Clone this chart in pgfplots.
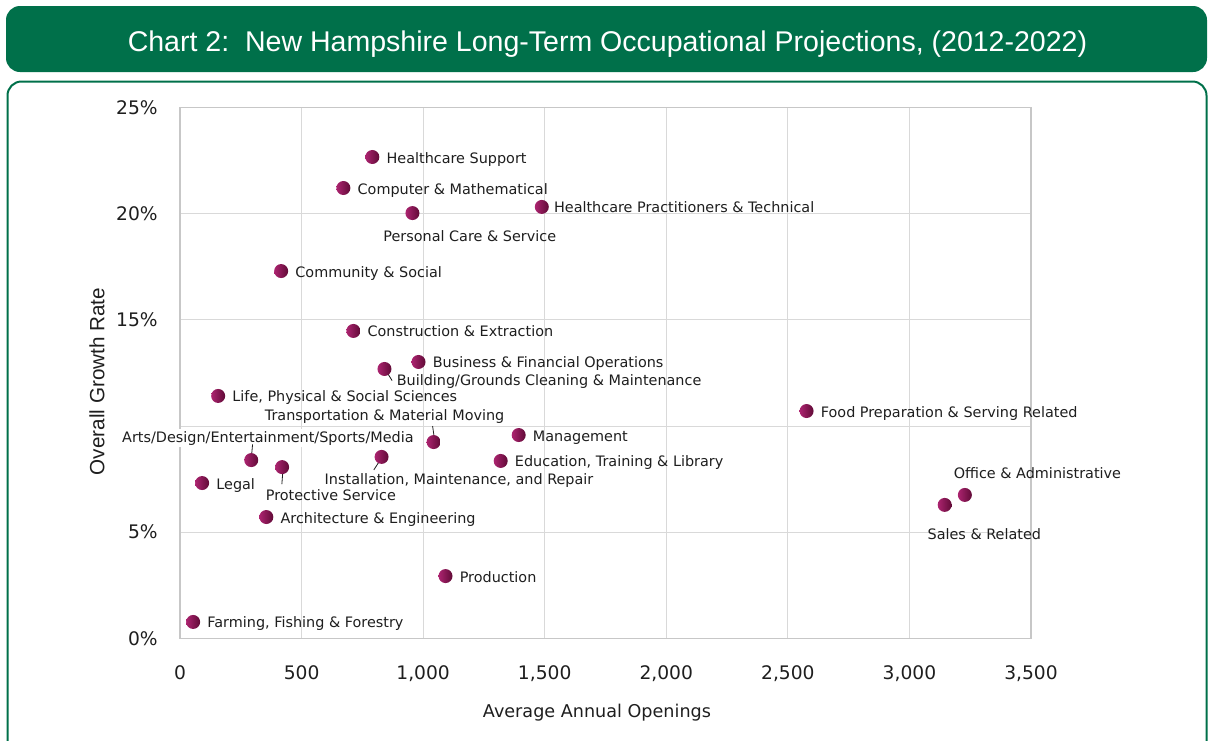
\documentclass[border=0pt]{standalone}
\usepackage{pgfplots}
\pgfplotsset{compat=1.18}
\usepackage{fontspec}
\setmainfont{Liberation Sans}
\newfontfamily\dv{DejaVu Sans}
\definecolor{nhgreen}{RGB}{0,112,74}
\definecolor{mkA}{RGB}{172,36,112}
\definecolor{mkB}{RGB}{96,10,54}
\definecolor{txt}{RGB}{30,30,30}
\pgfdeclarehorizontalshading{markshade}{100bp}{color(0bp)=(mkA); color(25bp)=(mkA); color(75bp)=(mkB); color(100bp)=(mkB)}
\pgfdeclareplotmark{shball}{\pgfpathcircle{\pgfpointorigin}{\pgfplotmarksize}\pgfshadepath{markshade}{0}\pgfusepath{discard}}
\tikzset{
  lab/.style={font=\dv\fontsize{10.8}{13}\selectfont, text=txt, inner sep=0pt},
  rlab/.style={lab, anchor=base west, xshift=10.5pt, yshift=-4.5pt},
}
\begin{document}
\begin{tikzpicture}
\begin{scope}[x=0.75pt,y=-0.75pt]
\fill[nhgreen, rounded corners=10.5pt] (6,6) rectangle (1207,72);
\node[white, font=\fontsize{21.4}{26}\selectfont, anchor=base, inner sep=0pt] at (607.5,51) {Chart 2:\ \ New Hampshire Long-Term Occupational Projections, (2012-2022)};
\draw[nhgreen, line width=1.5pt, rounded corners=10.5pt] (7.5,81.5) rectangle (1206.5,770);
\end{scope}
\begin{axis}[at={(135pt,-478.875pt)}, anchor=south west, scale only axis,
  width=638.25pt, height=398.25pt,
  xmin=0, xmax=3500, ymin=0, ymax=25,
  xtick={0,500,...,3500}, ytick={0,5,...,25},
  grid=major, major grid style={draw=black!15, line width=0.75pt},
  axis line style={draw=black!22, line width=1pt},
  major tick length=0pt,
  /pgf/number format/assume math mode=true,
  /pgf/number format/1000 sep={,},
  xticklabel style={font=\dv\fontsize{14}{16}\selectfont, anchor=base, yshift=-31.1pt, text=txt},
  yticklabel style={font=\dv\fontsize{14}{16}\selectfont, anchor=base east, inner sep=0pt, xshift=-16.5pt, yshift=-5pt, text=txt},
  yticklabels={0\%,5\%,,15\%,20\%,25\%},
  clip=false,
]
\addplot[only marks, mark=shball, mark size=5.25pt] table {
x y
791 22.67
672 21.21
956 20.03
1488 20.32
416 17.30
713 14.48
981 13.02
841 12.69
157 11.42
2577 10.71
1043 9.25
1393 9.58
293 8.40
829 8.55
1319 8.36
420 8.07
91 7.32
3228 6.76
3145 6.29
355 5.72
1092 2.94
54 0.78
};
\node[rlab] at (axis cs:791,22.67) {Healthcare Support};
\node[rlab] at (axis cs:672,21.21) {Computer \& Mathematical};
\node[lab, anchor=base west, xshift=-22pt, yshift=-21pt] at (axis cs:956,20.03) {Personal Care \& Service};
\node[lab, anchor=base west, xshift=9pt, yshift=-4.5pt] at (axis cs:1488,20.32) {Healthcare Practitioners \& Technical};
\node[rlab] at (axis cs:416,17.30) {Community \& Social};
\node[rlab] at (axis cs:713,14.48) {Construction \& Extraction};
\node[rlab] at (axis cs:981,13.02) {Business \& Financial Operations};
\node[lab, anchor=base west, xshift=9pt, yshift=-12.5pt] at (axis cs:841,12.69) {Building/Grounds Cleaning \& Maintenance};
\node[rlab] at (axis cs:157,11.42) {Life, Physical \& Social Sciences};
\node[rlab] at (axis cs:2577,10.71) {Food Preparation \& Serving Related};
\node[lab, anchor=base, xshift=-36.75pt, yshift=16pt] at (axis cs:1043,9.25) {Transportation \& Material Moving};
\node[rlab] at (axis cs:1393,9.58) {Management};
\node[lab, anchor=base, xshift=12.5pt, yshift=13.3pt, fill=white, inner xsep=1pt, inner ysep=1.5pt] at (axis cs:293,8.40) {Arts/Design/Entertainment/Sports/Media};
\node[lab, anchor=base, xshift=58.1pt, yshift=-21pt] at (axis cs:829,8.55) {Installation, Maintenance, and Repair};
\node[rlab] at (axis cs:1319,8.36) {Education, Training \& Library};
\node[lab, anchor=base, xshift=36.6pt, yshift=-25.3pt] at (axis cs:420,8.07) {Protective Service};
\node[rlab] at (axis cs:91,7.32) {Legal};
\node[lab, anchor=base west, xshift=-8.5pt, yshift=12pt] at (axis cs:3228,6.76) {Office \& Administrative};
\node[lab, anchor=base west, xshift=-13pt, yshift=-25.7pt] at (axis cs:3145,6.29) {Sales \& Related};
\node[rlab] at (axis cs:355,5.72) {Architecture \& Engineering};
\node[rlab] at (axis cs:1092,2.94) {Production};
\node[rlab] at (axis cs:54,0.78) {Farming, Fishing \& Forestry};
\draw[txt, line width=0.6pt] (axis cs:1043,9.25) ++(-0.75pt,12pt) -- ++(1.5pt,-10.5pt);
\draw[txt, line width=0.6pt] (axis cs:293,8.40) ++(1pt,11.8pt) -- ++(-1pt,-11pt);
\draw[txt, line width=0.6pt] (axis cs:829,8.55) ++(0pt,-0.75pt) -- ++(-5.8pt,-9pt);
\draw[txt, line width=0.6pt] (axis cs:420,8.07) ++(0.75pt,-0.75pt) -- ++(-0.95pt,-12pt);
\draw[txt, line width=0.6pt] (axis cs:841,12.69) ++(0.75pt,-0.75pt) -- ++(5pt,-8pt);
\end{axis}
\begin{scope}[x=0.75pt,y=-0.75pt]
\node[font=\dv\fontsize{13.2}{16}\selectfont, anchor=base, text=txt, inner sep=0pt] at (597,717) {Average Annual Openings};
\node[font=\fontsize{15.5}{18}\selectfont, rotate=90, text=txt, inner sep=0pt] at (97,381.5) {Overall Growth Rate};
\end{scope}
\pgfresetboundingbox
\useasboundingbox (0pt,0pt) rectangle (906pt,-555pt);
\end{tikzpicture}
\end{document}
